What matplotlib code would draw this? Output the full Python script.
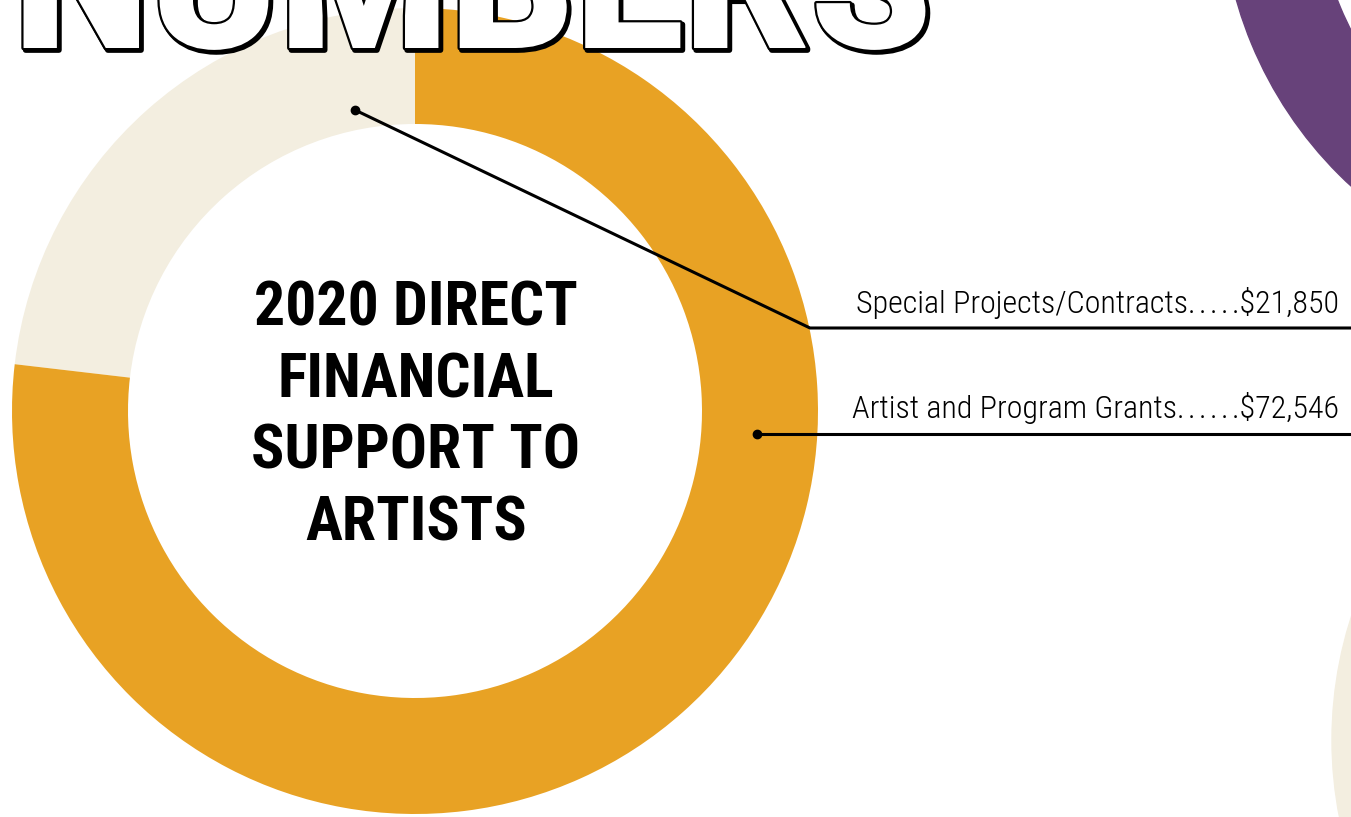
import matplotlib
matplotlib.use("Agg")
import matplotlib.pyplot as plt
from matplotlib.patches import Wedge
import matplotlib.patheffects as pe

categories = ["Special Projects/Contracts", "Artist and Program Grants"]
values = [21850, 72546]
value_labels = ["$21,850", "$72,546"]
leader_dots = [5, 6]
colors = ["#F3EEE0", "#E8A224"]
title_text = "2020 DIRECT\nFINANCIAL\nSUPPORT TO\nARTISTS"
header_text = "NUMBERS"

W, H = 1351, 817
fig = plt.figure(figsize=(W / 100, H / 100), dpi=100)
ax = fig.add_axes([0, 0, 1, 1])

def py(y):
    return H - y

# decorative rings from neighbouring charts
ax.add_patch(Wedge((1623, py(-110)), 402, 0, 360, width=96, color="#67427A", zorder=1))
ax.add_patch(Wedge((1734, py(740)), 402, 0, 360, width=115, color="#F3EEE0", zorder=1))

cx, cy = 415, py(411)
R, w = 403, 116
ax.pie(values, colors=colors, startangle=90, counterclock=True, radius=R,
       center=(cx, cy), wedgeprops=dict(width=w, linewidth=0), frame=True)
ax.set_xlim(0, W)
ax.set_ylim(0, H)
ax.set_aspect("equal")
ax.axis("off")

ax.text(cx + 1, py(416), title_text, ha="center", va="center", fontsize=44.5,
        fontweight="bold", family=["Roboto Condensed", "Roboto"], linespacing=1.30, zorder=5)

ax.text(13, py(48), header_text, ha="left", va="baseline", fontsize=140, fontweight="black",
        family="Roboto", color="white", zorder=6,
        path_effects=[pe.Stroke(linewidth=4, foreground="black", offset=(1.5, -1.5)),
                      pe.Stroke(linewidth=3.2, foreground="black"),
                      pe.Normal()])

# annotations
ax.plot([355, 810, W], [py(110), py(328), py(328)], color="black", lw=2.2, zorder=4, solid_capstyle="butt")
ax.plot([355], [py(110)], "o", color="black", ms=6, zorder=4)
ax.plot([757, W], [py(434), py(434)], color="black", lw=2.2, zorder=4)
ax.plot([757], [py(434)], "o", color="black", ms=6, zorder=4)

fam = ["Roboto Condensed", "DejaVu Sans"]
for i, yb in enumerate([313, 418]):
    label = categories[i] + "\u200a".join("." * leader_dots[i]) + value_labels[i]
    ax.text(1339, py(yb), label, ha="right", va="baseline",
            fontsize=23, fontweight="light", family=fam, zorder=5)

fig.savefig("out.png", dpi=100)
